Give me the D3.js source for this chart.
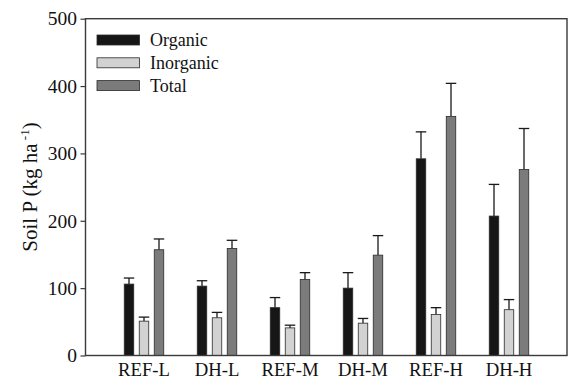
<!DOCTYPE html>
<html>
<head>
<meta charset="utf-8">
<script src="https://cdn.jsdelivr.net/npm/d3@7"></script>
<style>
  html, body { margin: 0; padding: 0; background: #fff; }
  svg text { font-family: "Liberation Serif", "Times New Roman", serif; fill: #111; }
</style>
</head>
<body>
<div id="chart"></div>
<script>
"use strict";

// data
const sites = ["REF-L", "DH-L", "REF-M", "DH-M", "REF-H", "DH-H"];
const seriesNames = ["Organic", "Inorganic", "Total"];
const organic = [106, 103, 71, 100, 292, 207];
const organicErr = [9, 8, 15, 23, 40, 47];
const inorganic = [51, 56, 41, 48, 61, 68];
const inorganicErr = [6, 8, 4, 7, 10, 15];
const total = [157, 159, 113, 149, 355, 276];
const totalErr = [16, 12, 10, 29, 49, 61];
const yTicks = [0, 100, 200, 300, 400, 500];

const fills = ["#161616", "#d2d2d2", "#7b7b7b"];

const W = 568, H = 379;
const plot = { left: 85.5, right: 567, top: 18.7, bottom: 355.5 };

const svg = d3.select("#chart").append("svg")
    .attr("width", W).attr("height", H);

const x = d3.scaleBand().domain(sites).range([107.5, 545.5]).padding(0);
const y = d3.scaleLinear().domain([0, 500]).range([plot.bottom, plot.top]);
const offset = d3.scaleBand().domain(seriesNames).range([-22.5, 22.5]);
const barW = 9.5;

const series = [
    { name: "Organic", values: organic, errs: organicErr },
    { name: "Inorganic", values: inorganic, errs: inorganicErr },
    { name: "Total", values: total, errs: totalErr },
];

const rows = series.flatMap((s, si) => s.values.map((v, i) => ({
    site: sites[i], name: s.name, value: v, err: s.errs[i], color: fills[si]
})));
const cx = d => x(d.site) + x.bandwidth() / 2 + offset(d.name) + offset.bandwidth() / 2;

// error bars (drawn first so bars cover the stem)
const eb = svg.append("g").attr("stroke", "#1a1a1a").attr("stroke-width", 1.3);
eb.selectAll("line.stem").data(rows).join("line").classed("stem", true)
    .attr("x1", cx).attr("x2", cx)
    .attr("y1", d => y(d.value)).attr("y2", d => y(d.value + d.err));
eb.selectAll("line.cap").data(rows).join("line").classed("cap", true)
    .attr("x1", d => cx(d) - barW / 2 - 0.5).attr("x2", d => cx(d) + barW / 2 + 0.5)
    .attr("y1", d => y(d.value + d.err)).attr("y2", d => y(d.value + d.err));

svg.append("g").selectAll("rect").data(rows).join("rect")
    .attr("x", d => cx(d) - barW / 2)
    .attr("y", d => y(d.value))
    .attr("width", barW)
    .attr("height", d => y(0) - y(d.value))
    .attr("fill", d => d.color)
    .attr("stroke", "#2a2a2a").attr("stroke-width", 0.8);

// frame
svg.append("rect")
    .attr("x", plot.left).attr("y", plot.top)
    .attr("width", plot.right - plot.left).attr("height", plot.bottom - plot.top)
    .attr("fill", "none").attr("stroke", "#3a3a3a").attr("stroke-width", 1.4);

// y axis
const yAxis = svg.append("g")
    .attr("transform", `translate(${plot.left},0)`)
    .call(d3.axisLeft(y).tickValues(yTicks).tickSize(5).tickPadding(3.5));
yAxis.select(".domain").remove();
yAxis.selectAll("line").attr("stroke", "#3a3a3a").attr("stroke-width", 1.2);
yAxis.selectAll("text").attr("font-size", 19.5).attr("fill", "#111");

// x axis labels
const xAxis = svg.append("g")
    .attr("transform", `translate(0,${plot.bottom})`)
    .call(d3.axisBottom(x).tickSize(0).tickPadding(7));
xAxis.select(".domain").remove();
xAxis.selectAll("text").attr("font-size", 18.7).attr("fill", "#111");

// y title
const title = svg.append("text")
    .attr("transform", "translate(37,187) rotate(-90)")
    .attr("text-anchor", "middle")
    .attr("font-size", 21);
title.append("tspan").text("Soil P (kg ha");
title.append("tspan").attr("dy", -8).attr("font-size", 13).text(" -1");
title.append("tspan").attr("dy", 8).text(")");

// legend
const legend = svg.append("g").attr("transform", "translate(97,35)");
const item = legend.selectAll("g").data(seriesNames).join("g")
    .attr("transform", (d, i) => `translate(0,${i * 22.8})`);
item.append("rect")
    .attr("width", 42.5).attr("height", 10)
    .attr("fill", (d, i) => fills[i])
    .attr("stroke", "#2a2a2a").attr("stroke-width", 0.8);
item.append("text")
    .attr("x", 53).attr("y", 11)
    .attr("font-size", 18)
    .text(d => d);
</script>
</body>
</html>
